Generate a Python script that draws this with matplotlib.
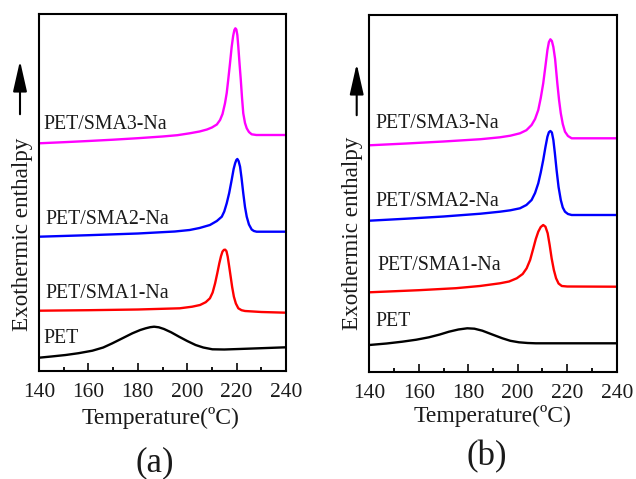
import matplotlib
matplotlib.use('Agg')
import matplotlib.pyplot as plt
from matplotlib.ticker import MultipleLocator

plt.rcParams['font.family'] = ['Liberation Serif', 'DejaVu Serif']

# values: temperature (C) and curve height (arbitrary units, offset stacked)
# ---- panel (a) ----
a_pet_t = [140, 145, 150.8, 156, 161.6, 166, 169.7, 174, 177.8, 181, 183.2, 185, 186.6, 188.5,
           190.6, 193.5, 196.7, 200, 203.4, 206.5, 210.2, 215, 221, 230, 240]
a_pet_h = [13.3, 14.5, 16, 17.8, 20.3, 23.5, 27.7, 33, 37.7, 41, 42.7, 43.8, 44.3, 43.7,
           42, 38.7, 34.3, 30, 26, 23.5, 21.7, 21.5, 22, 22.8, 23.7]

a_sma1_t = [140, 160, 180, 197, 202, 205.2, 207.5, 209.2, 210.3, 211.3, 212.2, 213, 213.7, 214.3,
            214.9, 215.4, 215.9, 216.4, 217, 217.6, 218.2, 218.9, 219.7, 220.7, 222, 223.4, 230, 240]
a_sma1_h = [60.3, 60.8, 61.5, 62.7, 64.3, 66, 68.8, 72.7, 78.5, 87.7, 98, 107.7, 115, 119.5,
            121.2, 121.3, 119.8, 114.3, 104.5, 94.3, 84, 74.3, 67.5, 62.7, 60.8, 60, 59, 58.3]

a_sma2_t = [140, 160, 180, 195, 201, 205, 209.2, 212, 214, 215, 216, 217, 218, 218.8, 219.4,
            219.9, 220.3, 220.8, 221.4, 222, 222.7, 223.4, 224.1, 225, 226.1, 227, 228.1, 240]
a_sma2_h = [134.3, 135.8, 137.5, 139.5, 141, 143, 146, 150, 154.3, 159.5, 167.7, 178, 191, 202, 207.7,
            211, 212, 210, 204.3, 193, 177.7, 164, 154.3, 146.5, 141.5, 140, 139.3, 139.3]

a_sma3_t = [140, 150, 160, 170, 180, 190, 196, 201, 205, 208, 210, 212, 213.3, 214.3, 215.3, 216,
            216.6, 217.3, 218, 218.6, 219.1, 219.5, 219.9, 220.3, 220.7, 221.2, 221.7, 222.2,
            222.7, 223.4, 224.1, 225, 226.1, 228, 240]
a_sma3_h = [227.7, 228.8, 230, 231.3, 232.8, 234.5, 235.8, 237.7, 239.5, 241.5, 243.5, 246.5, 251,
            257, 267.7, 278, 291, 307, 324, 335, 341, 342.7, 341.5, 336, 324, 307, 291, 273,
            257.7, 248, 242.7, 239, 236.7, 236, 236]

# ---- panel (b) ----
b_pet_t = [140, 147, 153.3, 159, 164.1, 168.5, 172.2, 176, 179.6, 182.5, 185.7, 189.5, 193.8,
           197, 200.5, 204, 207.3, 240]
b_pet_h = [27, 28.5, 30.3, 32.3, 34.7, 37.5, 40.3, 42.5, 43.7, 43.3, 41.3, 37.7, 33.7,
           31.2, 29.7, 29, 28.7, 28.7]

b_sma1_t = [140, 160, 175, 184.7, 192.8, 196.5, 199.6, 202, 203.6, 205, 206.3, 207.3, 208.3,
            209.3, 210.3, 211.2, 212.1, 212.9, 213.7, 214.6, 215.5, 216.5, 217.8, 220, 240]
b_sma1_h = [79.7, 81.8, 83.8, 86, 88.7, 90.5, 93.7, 98, 103.7, 112, 123.7, 133, 140.3,
            145, 147, 145.3, 138.7, 127, 113.7, 102, 93.7, 88.5, 86, 85.5, 85.3]

b_sma2_t = [140, 155, 170, 185, 192.8, 197, 200.9, 203.5, 205.6, 207, 208.3, 209.3, 210.3, 211.2,
            212, 212.6, 213.2, 213.8, 214.4, 215, 215.7, 216.5, 217.4, 218.2, 219.1, 220.3,
            221.8, 240]
b_sma2_h = [151.3, 153.3, 155.5, 158.3, 160.3, 161.7, 163.7, 167, 172, 179, 188.7, 199.5, 212, 225,
            235.3, 239.8, 241, 239.5, 232, 219, 202, 185, 172, 164.5, 160.3, 158,
            157, 157]

b_sma3_t = [140, 155, 170, 185, 192.8, 197, 200.9, 203.5, 205.6, 207, 208.3, 209.3, 210.3, 211.2,
            212, 212.6, 213.2, 213.8, 214.4, 215.1, 216, 216.7, 217.4, 218.2, 219.1, 220.3,
            221.8, 240]
b_sma3_h = [226.7, 228.5, 230.5, 232.8, 234.7, 236.3, 238.7, 241.8, 247, 253, 262, 274, 288.7, 306,
            322, 330, 332.7, 331, 325, 313, 288.7, 272, 258.7, 248, 240.3, 236,
            233.7, 233.7]

labels = ['PET', 'PET/SMA1-Na', 'PET/SMA2-Na', 'PET/SMA3-Na']
colors = ['black', '#ff0000', '#0000ff', '#ff00ff']
a_label_pos = [(141.8, 32.7), (142.4, 77), (142.4, 151), (141.8, 246.7)]
b_label_pos = [(142.3, 50.3), (143.2, 107), (142.3, 170.3), (142.3, 248.7)]

txt = '#1a1a1a'
W, H = 636, 479
fig = plt.figure(figsize=(W / 100, H / 100), dpi=100)

ax_a = fig.add_axes([39 / W, 1 - 371 / H, 247 / W, 357 / H])
ax_b = fig.add_axes([369.3 / W, 1 - 372 / H, 247.4 / W, 357 / H])

curves_a = [(a_pet_t, a_pet_h), (a_sma1_t, a_sma1_h), (a_sma2_t, a_sma2_h), (a_sma3_t, a_sma3_h)]
curves_b = [(b_pet_t, b_pet_h), (b_sma1_t, b_sma1_h), (b_sma2_t, b_sma2_h), (b_sma3_t, b_sma3_h)]

for ax, curves, lpos in [(ax_a, curves_a, a_label_pos), (ax_b, curves_b, b_label_pos)]:
    for (t, h), c, lab, (lx, ly) in zip(curves, colors, labels, lpos):
        ax.plot(t, h, color=c, lw=1.7, solid_joinstyle='round')
        ax.text(lx, ly, lab, ha='left', va='center', fontsize=14.3, color=txt)
    ax.set_xlim(140, 240)
    ax.set_ylim(0, 357)
    ax.set_yticks([])
    ax.xaxis.set_major_locator(MultipleLocator(20))
    ax.xaxis.set_minor_locator(MultipleLocator(10))
    ax.tick_params(axis='x', which='major', direction='in', length=6, width=1.3,
                   labelsize=15.5, pad=8.5, colors=txt)
    ax.tick_params(axis='x', which='minor', direction='in', length=3, width=1.3)
    for s in ax.spines.values():
        s.set_linewidth(1.5)

# axis labels and panel letters
fig.text(160 / W, 1 - 418 / H, 'Temperature(ºC)', ha='center', va='center', fontsize=17, color=txt)
fig.text(492.5 / W, 1 - 416 / H, 'Temperature(ºC)', ha='center', va='center', fontsize=17, color=txt)
fig.text(23 / W, 1 - 234.5 / H, 'Exothermic enthalpy', rotation=90, ha='center', va='center',
         fontsize=16.7, color=txt)
fig.text(352.5 / W, 1 - 233 / H, 'Exothermic enthalpy', rotation=90, ha='center', va='center',
         fontsize=16.7, color=txt)
fig.text(155 / W, 1 - 463 / H, '(a)', ha='center', va='center', fontsize=25, color=txt)
fig.text(486.7 / W, 1 - 456.7 / H, '(b)', ha='center', va='center', fontsize=25, color=txt)

# upward arrows
for x, y0, y1 in [(20, 117, 58), (356.7, 118, 61)]:
    fig.add_artist(matplotlib.patches.FancyArrowPatch(
        (x / W, 1 - y0 / H), (x / W, 1 - y1 / H), transform=fig.transFigure,
        arrowstyle='-|>,head_length=0.75,head_width=0.17', mutation_scale=25,
        lw=1.5, color='black'))

fig.savefig('out.png', dpi=100)
